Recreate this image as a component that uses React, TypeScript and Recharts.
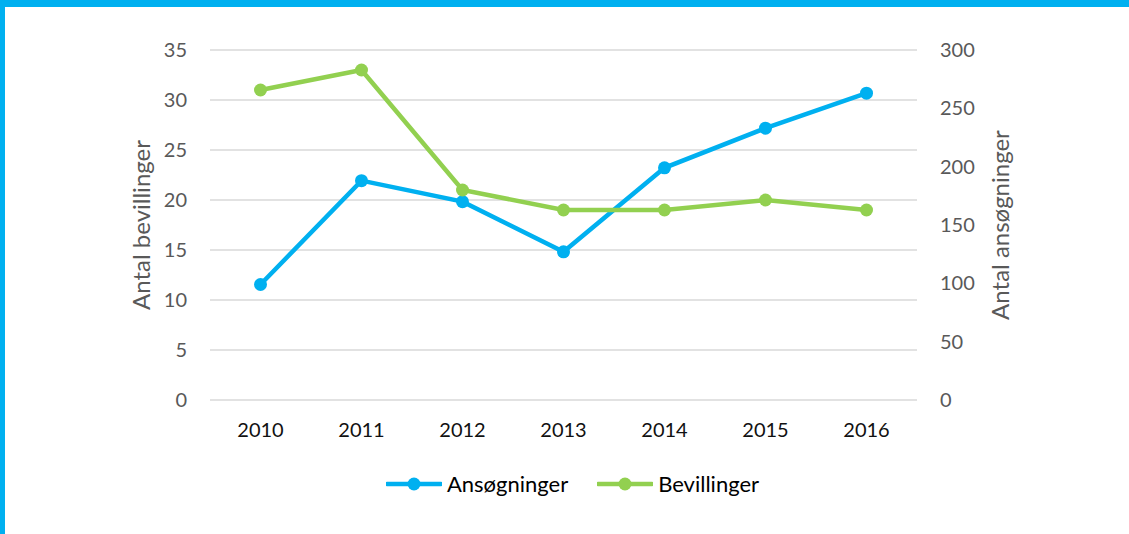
import React from 'react';
import { LineChart, Line, XAxis, YAxis, CartesianGrid, Legend } from 'recharts';

const years = ['2010', '2011', '2012', '2013', '2014', '2015', '2016'];
const ansogninger = [99, 188, 170, 127, 199, 233, 263];
const bevillinger = [31, 33, 21, 19, 19, 20, 19];
const leftTicks = [0, 5, 10, 15, 20, 25, 30, 35];
const rightTicks = [0, 50, 100, 150, 200, 250, 300];

const BLUE = '#00B0F0';
const GREEN = '#92D050';
const FONT = 'Lato, "Open Sans", sans-serif';

const data = years.map((y, i) => ({ year: y, Ansøgninger: ansogninger[i], Bevillinger: bevillinger[i] }));

const LegendContent = () => {
  const items = [
    { name: 'Ansøgninger', color: BLUE },
    { name: 'Bevillinger', color: GREEN },
  ];
  return (
    <div style={{ height: 74, display: 'flex', justifyContent: 'center', alignItems: 'flex-start', paddingTop: 43, paddingLeft: 16, boxSizing: 'border-box', fontFamily: FONT, fontSize: 22, color: '#000' }}>
      {items.map((it, idx) => (
        <div key={it.name} style={{ display: 'flex', alignItems: 'center', marginLeft: idx === 0 ? 0 : 29, height: 22 }}>
          <svg width={56} height={16} style={{ marginRight: 5 }}>
            <line x1={1} y1={8} x2={55} y2={8} stroke={it.color} strokeWidth={4.5} strokeLinecap="round" />
            <circle cx={28} cy={8} r={6.5} fill={it.color} />
          </svg>
          <span style={{ lineHeight: '22px' }}>{it.name}</span>
        </div>
      ))}
    </div>
  );
};

export default function App() {
  return (
    <div style={{ position: 'fixed', left: 0, top: 0, width: 1129, height: 534, background: '#fff' }}>
      <div style={{ position: 'absolute', left: 0, top: 0, width: 1129, height: 534, borderTop: `7px solid ${BLUE}`, borderLeft: `5px solid ${BLUE}`, boxSizing: 'border-box' }} />
      <div style={{ position: 'absolute', left: 0, top: 0 }}>
        <LineChart width={1129} height={534} data={data} margin={{ top: 50, right: 0, bottom: 30, left: 0 }}>
          <CartesianGrid yAxisId="left" vertical={false} stroke="#D9D9D9" strokeWidth={1.5} />
          <XAxis
            dataKey="year"
            axisLine={false}
            tickLine={false}
            tickSize={0}
            tickMargin={23}
            height={30}
            padding={{ left: 50.5, right: 50.5 }}
            tick={{ fill: '#111', fontSize: 20, fontFamily: FONT }}
          />
          <YAxis
            yAxisId="left"
            orientation="left"
            width={210}
            domain={[0, 35]}
            ticks={leftTicks}
            axisLine={false}
            tickLine={false}
            tickSize={0}
            tickMargin={23}
            tick={{ fill: '#595959', fontSize: 20, fontFamily: FONT }}
            label={{ value: 'Antal bevillinger', angle: -90, position: 'center', dx: 36, fill: '#595959', fontSize: 24, fontFamily: FONT }}
          />
          <YAxis
            yAxisId="right"
            orientation="right"
            width={212}
            domain={[0, 300]}
            ticks={rightTicks}
            axisLine={false}
            tickLine={false}
            tickSize={0}
            tickMargin={23}
            tick={{ fill: '#595959', fontSize: 20, fontFamily: FONT }}
            label={{ value: 'Antal ansøgninger', angle: -90, position: 'center', dx: -23, fill: '#595959', fontSize: 24, fontFamily: FONT }}
          />
          <Legend verticalAlign="bottom" height={74} content={<LegendContent />} />
          <Line
            yAxisId="right"
            dataKey="Ansøgninger"
            stroke={BLUE}
            strokeWidth={4.5}
            dot={{ r: 6.5, fill: BLUE, stroke: 'none' }}
            activeDot={false}
            isAnimationActive={false}
          />
          <Line
            yAxisId="left"
            dataKey="Bevillinger"
            stroke={GREEN}
            strokeWidth={4.5}
            dot={{ r: 6.5, fill: GREEN, stroke: 'none' }}
            activeDot={false}
            isAnimationActive={false}
          />
        </LineChart>
      </div>
    </div>
  );
}
